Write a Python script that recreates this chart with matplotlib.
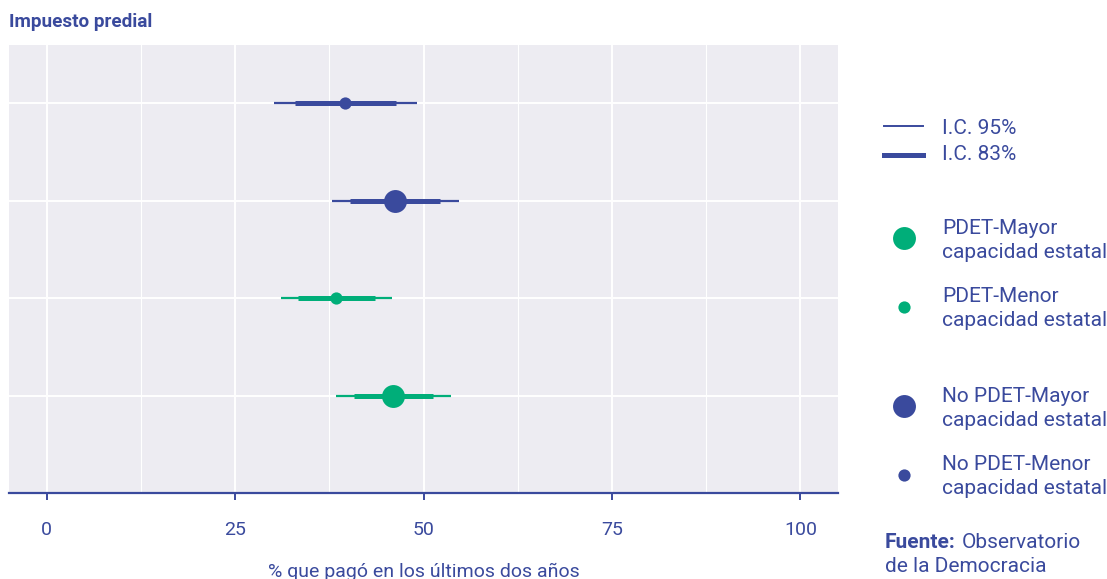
import matplotlib
matplotlib.use("Agg")
import matplotlib.pyplot as plt
from matplotlib.lines import Line2D

plt.rcParams['font.family'] = ['Roboto', 'DejaVu Sans']

BLUE = "#3A4A9D"
GREEN = "#00AE79"
PANEL = "#EDECF2"

# Data (top to bottom)
groups = ["No PDET-Menor", "No PDET-Mayor", "PDET-Menor", "PDET-Mayor"]
estimate = [39.6, 46.2, 38.4, 45.9]
ci95_low = [30.1, 37.9, 31.1, 38.4]
ci95_high = [49.2, 54.7, 45.8, 53.6]
ci83_low = [32.9, 40.3, 33.4, 40.8]
ci83_high = [46.4, 52.2, 43.6, 51.3]
colors = [BLUE, BLUE, GREEN, GREEN]
capacity_large = [False, True, False, True]
xticks = [0, 25, 50, 75, 100]

W, H = 1107, 579
fig = plt.figure(figsize=(W / 100, H / 100), dpi=100)
ax = fig.add_axes([9 / W, 1 - 493 / H, (838 - 9) / W, (493 - 45) / H])
ax.set_facecolor(PANEL)

ypos = [4, 3, 2, 1]
for i in range(len(groups)):
    y = ypos[i]
    ax.plot([ci95_low[i], ci95_high[i]], [y, y], color=colors[i], lw=1.6,
            solid_capstyle='butt', zorder=3)
    ax.plot([ci83_low[i], ci83_high[i]], [y, y], color=colors[i], lw=3.6,
            solid_capstyle='butt', zorder=4)
    ms = 16.5 if capacity_large[i] else 8.8
    ax.plot([estimate[i]], [y], 'o', color=colors[i], ms=ms, mew=0, zorder=5)

ax.set_xlim(-5, 105)
ax.set_ylim(0, 4.6)
ax.set_xticks(xticks)
ax.set_xticks([12.5, 37.5, 62.5, 87.5], minor=True)
ax.set_yticks(ypos)
ax.set_yticklabels([])
ax.grid(True, which='major', color='white', lw=1.4)
ax.grid(True, which='minor', axis='x', color='white', lw=0.8)
ax.set_axisbelow(True)
for s in ['top', 'right', 'left']:
    ax.spines[s].set_visible(False)
ax.spines['bottom'].set_color(BLUE)
ax.spines['bottom'].set_linewidth(1.6)
ax.tick_params(axis='y', length=0)
ax.tick_params(axis='x', which='major', color=BLUE, width=1.4, length=5,
               labelcolor=BLUE, labelsize=14, pad=15)
ax.tick_params(axis='x', which='minor', length=0)
ax.set_xlabel("% que pagó en los últimos dos años", color=BLUE, fontsize=14,
              labelpad=17)

fig.text(9 / W, 1 - 22 / H, "Impuesto predial", color=BLUE, fontsize=13.6,
         fontweight='bold', va='center', ha='left')

def fx(px):
    return px / W

def fy(py):
    return 1 - py / H

# Legend: CI lines
fig.add_artist(Line2D([fx(884), fx(923)], [fy(126), fy(126)], color=BLUE,
                      lw=1.4, transform=fig.transFigure))
fig.add_artist(Line2D([fx(884), fx(923)], [fy(155), fy(155)], color=BLUE,
                      lw=3.6, transform=fig.transFigure))
fig.text(fx(942), fy(128), "I.C. 95%", color=BLUE, fontsize=15, va='center')
fig.text(fx(942), fy(154), "I.C. 83%", color=BLUE, fontsize=15, va='center')

legend_items = [
    ("PDET-Mayor", GREEN, 16.5, 238),
    ("PDET-Menor", GREEN, 8.8, 307),
    ("No PDET-Mayor", BLUE, 16.5, 406),
    ("No PDET-Menor", BLUE, 8.8, 475),
]
for label, c, ms, py in legend_items:
    fig.add_artist(Line2D([fx(904)], [fy(py)], marker='o', ms=ms, mew=0,
                          color=c, transform=fig.transFigure))
    fig.text(fx(942), fy(py - 10), label, color=BLUE, fontsize=15, va='center')
    fig.text(fx(942), fy(py + 14), "capacidad estatal", color=BLUE,
             fontsize=15, va='center')

fig.text(fx(885), fy(542), "Fuente:", color=BLUE, fontsize=15,
         fontweight='bold', va='center')
fig.text(fx(962), fy(542), "Observatorio", color=BLUE, fontsize=15,
         va='center')
fig.text(fx(885), fy(566), "de la Democracia", color=BLUE, fontsize=15,
         va='center')

fig.savefig("out.png", dpi=100)
